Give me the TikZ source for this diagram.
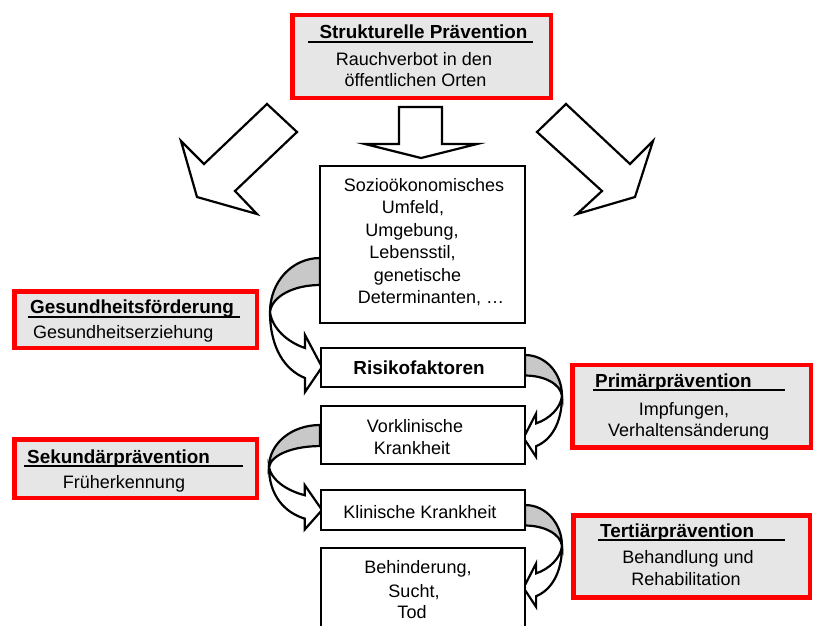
\documentclass[tikz,border=0pt]{standalone}
\usepackage{fontspec}
\setmainfont{Liberation Sans}
\definecolor{boxgray}{HTML}{E6E6E6}
\definecolor{arrgray}{HTML}{C8C8C8}
\newcommand\curvarr[4]{%
\begin{scope}[shift={(#1,#2)}, xscale=#3, yscale=#4]
 \filldraw[carrow, fill=arrgray] (0,0) .. controls (-28,0) and (-50,24) .. (-50,54) .. controls (-48,38) and (-26,27) .. (0,27) -- cycle;
 \filldraw[carrow, fill=white] (-50,54) .. controls (-50,90) and (-35,112) .. (-15,120) -- (-15,134) -- (2,109) -- (-15,77) -- (-15,90) .. controls (-33,84) and (-48,70) .. (-50,54) -- cycle;
\end{scope}}
\begin{document}
\begin{tikzpicture}[x=1pt,y=-1pt,
  txt/.style={font=\fontsize{18}{21}\selectfont, inner sep=0pt, anchor=base},
  ttl/.style={font=\fontsize{18.9}{21}\selectfont\bfseries, inner sep=0pt, anchor=base west},
  redbox/.style={draw=red, line width=4.5pt, fill=boxgray, inner sep=0pt},
  blkbox/.style={draw=black, line width=2.5pt, fill=white, inner sep=0pt},
  blockarrow/.style={draw=black, line width=2.2pt, fill=white, line join=miter},
  carrow/.style={draw=black, line width=2.2pt, line join=miter},
  ul/.style={line width=2pt},
  ]
\useasboundingbox (0,0) rectangle (813,625);
\begin{scope}
\clip (0,0) rectangle (813,625);

% block arrows
\filldraw[blockarrow] (399,107) -- (442,107) -- (442,144) -- (477,144) -- (421,158) -- (365,144) -- (399,144) -- cycle;
\filldraw[blockarrow] (267,104) -- (297,132) -- (235,191) -- (257,214) -- (197,197) -- (181,141) -- (204,164) -- cycle;
\filldraw[blockarrow] (566,104) -- (537,132) -- (602,191) -- (577,214) -- (635,197) -- (653,141) -- (630,164) -- cycle;

% curved arrows
\curvarr{320}{258}{1}{1}
\curvarr{320}{425}{1.02}{0.78}
\curvarr{525}{355}{-0.74}{0.76}
\curvarr{525}{505}{-0.74}{0.76}

% red boxes
\node[redbox, minimum width=258.5pt, minimum height=83pt] (struk) at (421.75,56.5) {};
\node[redbox, minimum width=242.3pt, minimum height=56.3pt] (gesund) at (135.85,319.85) {};
\node[redbox, minimum width=242.3pt, minimum height=58.5pt] (sekund) at (135.85,468.75) {};
\node[redbox, minimum width=238.3pt, minimum height=82.5pt] (primaer) at (691.65,406.25) {};
\node[redbox, minimum width=236.5pt, minimum height=82pt] (tertiaer) at (691.75,556.5) {};

% black boxes
\node[blkbox, minimum width=205pt, minimum height=157pt] (sozio) at (422.5,244.5) {};
\node[blkbox, minimum width=204pt, minimum height=39pt] (risiko) at (423,367.5) {};
\node[blkbox, minimum width=204pt, minimum height=58pt] (vorkl) at (423,435) {};
\node[blkbox, minimum width=204pt, minimum height=40pt] (klin) at (423,510) {};
\node[blkbox, minimum width=204pt, minimum height=110pt] (behind) at (423,603) {};
\end{scope}

% texts: top
\node[ttl, anchor=base] (t1) at (423.5,38.5) {Strukturelle Prävention};
\draw[ul] (308,41.7) -- (533,41.7);
\node[txt] (t1a) at (414,65) {Rauchverbot in den};
\node[txt] (t1b) at (415.5,86.5) {öffentlichen Orten};

% sozio
\node[txt] (s1) at (424,191) {Sozioökonomisches};
\node[txt] (s2) at (413,213.5) {Umfeld,};
\node[txt] (s3) at (412,236) {Umgebung,};
\node[txt] (s4) at (412.5,258.5) {Lebensstil,};
\node[txt] (s5) at (417.5,281) {genetische};
\node[txt] (s6) at (431,303.5) {Determinanten, …};

\node[ttl, anchor=base] (r1) at (419,374) {Risikofaktoren};
\node[txt] (v1) at (415,432) {Vorklinische};
\node[txt] (v2) at (412,454) {Krankheit};
\node[txt] (k1) at (420,518) {Klinische Krankheit};
\node[txt] (b1) at (418,573) {Behinderung,};
\node[txt] (b2) at (414,597) {Sucht,};
\node[txt] (b3) at (412,618) {Tod};

% left red boxes
\node[ttl] (g1) at (30,313) {Gesundheitsförderung};
\draw[ul] (28,317) -- (240,317);
\node[txt, anchor=base west] (g2) at (33,338) {Gesundheitserziehung};
\node[ttl] (sk1) at (27,463) {Sekundärprävention};
\draw[ul] (24,466) -- (243,466);
\node[txt] (sk2) at (124,488) {Früherkennung};

% right red boxes
\node[ttl] (p1) at (595,387.3) {Primärprävention};
\draw[ul] (593,390) -- (785,390);
\node[txt] (p2) at (684,415) {Impfungen,};
\node[txt] (p3) at (688.7,436) {Verhaltensänderung};
\node[ttl] (te1) at (600,537) {Tertiärprävention};
\draw[ul] (598,540) -- (785,540);
\node[txt] (te2) at (688,563) {Behandlung und};
\node[txt] (te3) at (686,585) {Rehabilitation};
\end{tikzpicture}
\end{document}
